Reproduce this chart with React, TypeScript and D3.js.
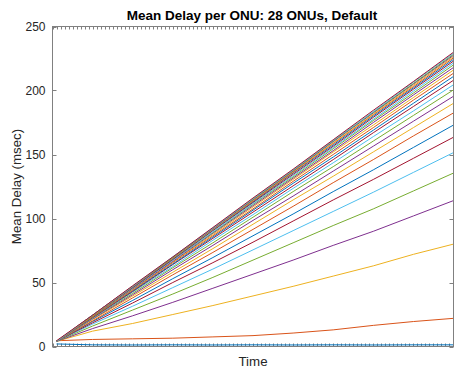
import React from "react";
import * as d3 from "d3";

const title = "Mean Delay per ONU: 28 ONUs, Default";
const xLabel = "Time";
const yLabel = "Mean Delay (msec)";
const yTicks = [0, 50, 100, 150, 200, 250];
const xTickValues = d3.range(0, 101);
const sampleX = [1, 10, 20, 30, 40, 50, 60, 70, 80, 90, 100];
const colors = ["#0072BD", "#D95319", "#EDB120", "#7E2F8E", "#77AC30", "#4DBEEE", "#A2142F"];

const onu01 = [2, 1.3, 1.2, 1.3, 1.2, 1.3, 1.2, 1.3, 1.2, 1.3, 1.3];
const onu02 = [4.5, 5.5, 6, 6.5, 7.5, 8.5, 10.5, 13, 16.5, 19.5, 22];
const onu03 = [4, 12, 18, 25, 32, 39.5, 47, 55, 63, 72, 80];
const onu04 = [4, 14, 24, 34.5, 45.5, 56.5, 67.5, 79, 90, 102, 114];
const onu05 = [4, 16, 28.5, 41, 54, 67.5, 81, 94.5, 107.5, 121.5, 135.5];
const onu06 = [4, 17.5, 31.5, 46, 60.5, 75.5, 90.5, 105.5, 120.5, 136, 151.5];
const onu07 = [4, 18.5, 34, 50, 65.5, 81.5, 98, 114.5, 130.5, 147, 163.5];
const onu08 = [4, 19.5, 36, 53, 69.5, 86.5, 103.5, 121, 138, 155.5, 173];
const onu09 = [4, 20, 38, 56, 73.5, 91.5, 109.5, 128, 146, 164.5, 182.5];
const onu10 = [4, 21, 39.5, 58, 76.5, 95.5, 114.5, 133, 152, 171, 190];
const onu11 = [4, 21.5, 40.5, 60, 79, 98.5, 117.5, 137, 156.5, 176, 195.5];
const onu12 = [4, 22, 41.5, 61.5, 81, 101, 121, 140.5, 160.5, 180.5, 200.5];
const onu13 = [4, 22, 42.5, 62.5, 83, 103, 123.5, 143.5, 164, 184, 204.5];
const onu14 = [4, 22.5, 43, 64, 84.5, 105, 125.5, 146, 167, 187.5, 208];
const onu15 = [4, 23, 43.5, 64.5, 85.5, 106.5, 127.5, 148, 169, 190, 211];
const onu16 = [4, 23, 44, 65.5, 86.5, 107.5, 129, 150, 171, 192.5, 213.5];
const onu17 = [4, 23.5, 44.5, 66, 87.5, 109, 130.5, 152, 173, 194.5, 216];
const onu18 = [4, 23.5, 45, 66.5, 88.5, 110, 131.5, 153, 175, 196.5, 218];
const onu19 = [4, 23.5, 45.5, 67.5, 89, 111, 132.5, 154.5, 176.5, 198, 220];
const onu20 = [4, 24, 45.5, 67.5, 89.5, 111.5, 133.5, 155.5, 177.5, 199.5, 221.5];
const onu21 = [4, 24, 46, 68, 90.5, 112.5, 134.5, 156.5, 179, 201, 223];
const onu22 = [4, 24, 46.5, 68.5, 91, 113, 135.5, 157.5, 180, 202, 224.3];
const onu23 = [4, 24, 46.5, 69, 91.5, 113.5, 136, 158.5, 181, 203, 225.5];
const onu24 = [4, 24, 47, 69, 91.5, 114, 136.5, 159, 181.5, 204, 226.5];
const onu25 = [4, 24.5, 47, 69.5, 92, 114.5, 137, 160, 182.5, 205, 227.5];
const onu26 = [4, 24.5, 47, 69.5, 92.5, 115, 137.5, 160.5, 183, 205.5, 228.3];
const onu27 = [4, 24.5, 47, 70, 92.5, 115.5, 138, 161, 183.5, 206.5, 229.1];
const onu28 = [4.5, 24.5, 47.5, 70, 93, 116, 138.5, 161.5, 184.5, 207, 229.9];

const series = [
  onu01, onu02, onu03, onu04, onu05, onu06, onu07, onu08, onu09, onu10,
  onu11, onu12, onu13, onu14, onu15, onu16, onu17, onu18, onu19, onu20,
  onu21, onu22, onu23, onu24, onu25, onu26, onu27, onu28,
];

const W = 454;
const H = 369;
const left = 52.5;
const right = 453.5;
const top = 26.5;
const bottom = 346.5;
const font = "'Liberation Sans', Arial, Helvetica, sans-serif";
const axisColor = "#808080";
const textColor = "#262626";

export default function App() {
  const x = d3.scaleLinear().domain([0, 100]).range([left, right]);
  const y = d3.scaleLinear().domain([0, 250]).range([bottom, top]);
  const line = d3
    .line<number>()
    .x((_, i) => x(sampleX[i]))
    .y((d) => y(d));

  const tickLen = 3;
  const yTickLen = 4;

  return (
    <svg
      width={W}
      height={H}
      style={{ position: "absolute", left: 0, top: 0, background: "#fff" }}
      fontFamily={font}
    >
      <rect x={0} y={0} width={W} height={H} fill="#fff" />
      <defs>
        <clipPath id="plot">
          <rect x={left} y={top - 1} width={right - left} height={bottom - top + 1} />
        </clipPath>
      </defs>
      {xTickValues.map((t) => (
        <g key={"xt" + t}>
          <line x1={Math.round(x(t)) + 0.5} x2={Math.round(x(t)) + 0.5} y1={top} y2={top + tickLen} stroke={axisColor} strokeWidth={1} />
          <line x1={Math.round(x(t)) + 0.5} x2={Math.round(x(t)) + 0.5} y1={bottom} y2={bottom - tickLen} stroke={axisColor} strokeWidth={1} />
        </g>
      ))}
      {yTicks.map((t) => (
        <g key={"yt" + t}>
          <line x1={left} x2={left + yTickLen} y1={Math.round(y(t)) + 0.5} y2={Math.round(y(t)) + 0.5} stroke={axisColor} strokeWidth={1} />
          <line x1={right} x2={right - yTickLen} y1={Math.round(y(t)) + 0.5} y2={Math.round(y(t)) + 0.5} stroke={axisColor} strokeWidth={1} />
          <text x={left - 7} y={y(t)} dy="0.35em" textAnchor="end" fontSize={12} fill={textColor}>
            {t}
          </text>
        </g>
      ))}
      <g clipPath="url(#plot)">
        {series.map((s, i) => (
          <path
            key={"s" + i}
            d={line(s) || ""}
            fill="none"
            stroke={colors[i % colors.length]}
            strokeWidth={1}
            strokeLinejoin="round"
          />
        ))}
      </g>
      <rect x={left} y={top} width={right - left} height={bottom - top} fill="none" stroke={axisColor} strokeWidth={1} />
      <text x={(left + right) / 2 - 1} y={20} textAnchor="middle" fontSize={13.5} fontWeight="bold" fill="#000">
        {title}
      </text>
      <text x={(left + right) / 2} y={365.5} textAnchor="middle" fontSize={13.3} fill={textColor}>
        {xLabel}
      </text>
      <text
        transform={`translate(20.5, ${(top + bottom) / 2}) rotate(-90)`}
        textAnchor="middle"
        fontSize={13.3}
        fill={textColor}
      >
        {yLabel}
      </text>
    </svg>
  );
}
